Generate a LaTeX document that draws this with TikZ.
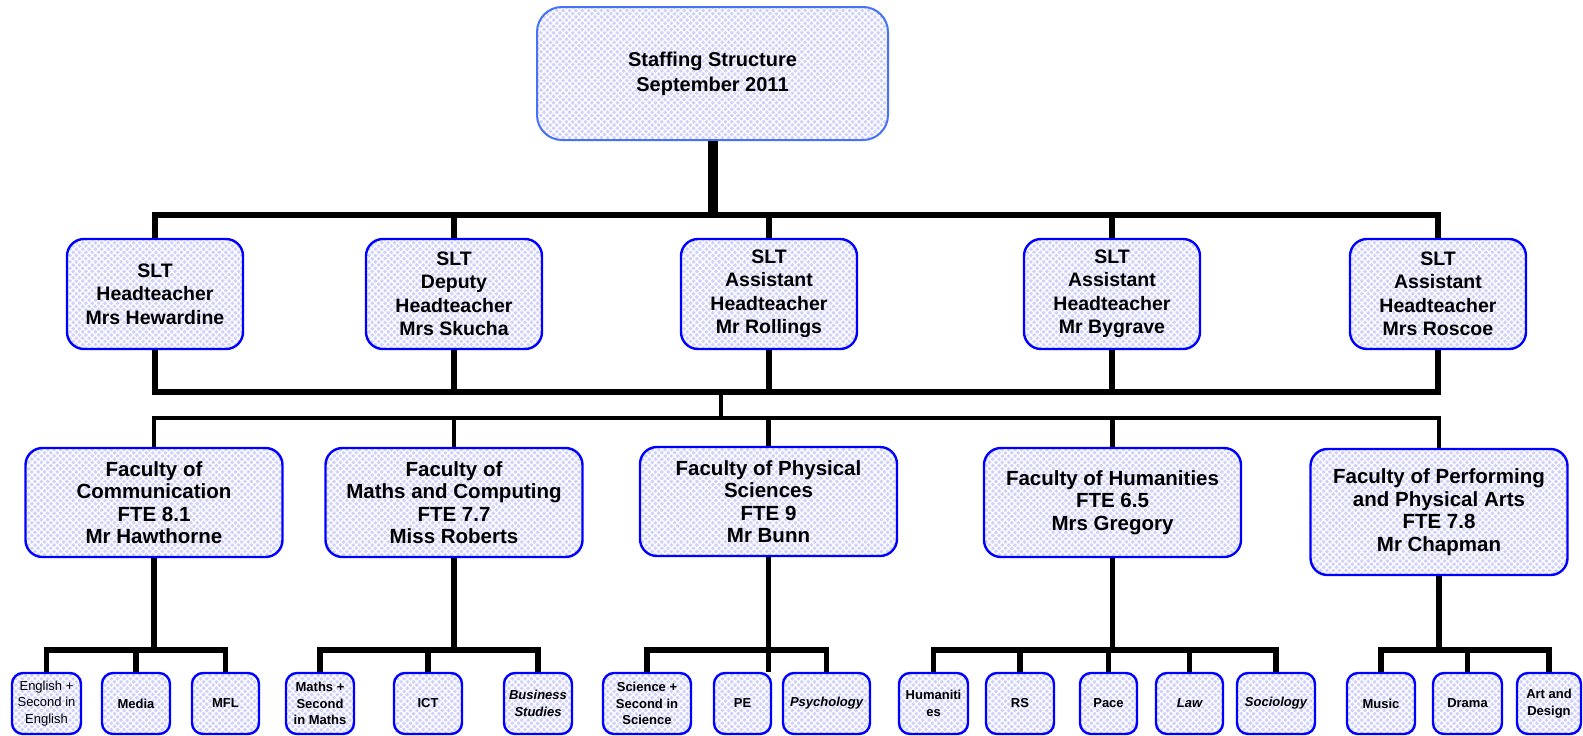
\documentclass[tikz,border=0pt]{standalone}
\usepackage{fontspec}
\setmainfont{Liberation Sans}
\usetikzlibrary{patterns.meta}
\definecolor{boxfill}{RGB}{208,210,250}
\definecolor{topedge}{RGB}{70,115,245}
\begin{document}
\begin{tikzpicture}[x=1pt,y=-1pt,
  box/.style={draw=blue, line width=2.4pt,
    preaction={fill=boxfill},
    preaction={pattern={Lines[angle=45,distance=4.5pt,line width=1.3pt]}, pattern color=white},
    preaction={pattern={Lines[angle=-45,distance=4.5pt,line width=1.3pt]}, pattern color=white},
    rounded corners=17pt, align=center, inner sep=0pt,
    font=\bfseries\fontsize{20}{25}\selectfont},
  topbox/.style={box, draw=topedge, line width=2pt, rounded corners=25pt},
  fac/.style={box, minimum width=257, minimum height=109, font=\bfseries\fontsize{20.5}{22.5}\selectfont},
  slt/.style={box, minimum width=176, minimum height=110, font=\bfseries\fontsize{19.5}{23.5}\selectfont},
  leaf/.style={box, rounded corners=11pt, minimum height=61, font=\bfseries\fontsize{13}{16.5}\selectfont},
  conn/.style={line width=5.5pt, line join=miter},
  thin conn/.style={line width=4.5pt, line join=miter}
]
\useasboundingbox (0,0) rectangle (1583,736);
\fill[white] (0,0) rectangle (1583,736);

\coordinate (y1) at (0,215);
\coordinate (y2) at (0,392);
\coordinate (y3) at (0,418);
\coordinate (y4) at (0,650);
\coordinate (mid) at (721,0);

% top
\node[topbox, minimum width=351, minimum height=133] (T) at (712.5,73.5) {Staffing Structure\\September 2011};

% SLT
\node[slt] (S1) at (155,294) {SLT\\Headteacher\\Mrs Hewardine};
\node[slt] (S2) at (454,294) {SLT\\Deputy\\Headteacher\\Mrs Skucha};
\node[slt] (S3) at (769,294) {SLT\\Assistant\\Headteacher\\Mr Rollings};
\node[slt] (S4) at (1112,294) {SLT\\Assistant\\Headteacher\\Mr Bygrave};
\node[slt] (S5) at (1438,294) {SLT\\Assistant\\Headteacher\\Mrs Roscoe};

% Faculties
\node[fac] (F1) at (154,502.5) {Faculty of\\Communication\\FTE 8.1\\Mr Hawthorne};
\node[fac] (F2) at (454,502.5) {Faculty of\\Maths and Computing\\FTE 7.7\\Miss Roberts};
\node[fac] (F3) at (768.5,501.5) {Faculty of Physical\\Sciences\\FTE 9\\Mr Bunn};
\node[fac] (F4) at (1112.5,502.5) {Faculty of Humanities\\FTE 6.5\\Mrs Gregory};
\node[fac, minimum height=126] (F5) at (1439,512) {Faculty of Performing\\and Physical Arts\\FTE 7.8\\Mr Chapman};

% Leaves
\node[leaf, minimum width=69, font=\fontsize{13}{16.5}\selectfont] (L1) at (46.5,703.5) {English +\\Second in\\English};
\node[leaf, minimum width=68] (L2) at (136,703.5) {Media};
\node[leaf, minimum width=67] (L3) at (225.5,703.5) {MFL};
\node[leaf, minimum width=68] (L4) at (320,703.5) {Maths +\\Second\\in Maths};
\node[leaf, minimum width=68] (L5) at (428,703.5) {ICT};
\node[leaf, minimum width=68] (L6) at (538,703.5) {\itshape Business\\\itshape Studies};
\node[leaf, minimum width=88] (L7) at (647,703.5) {Science +\\Second in\\Science};
\node[leaf, minimum width=57] (L8) at (742.5,703.5) {PE};
\node[leaf, minimum width=87] (L9) at (826.5,703.5) {\itshape Psychology};
\node[leaf, minimum width=69] (L10) at (933.5,703.5) {Humaniti\\es};
\node[leaf, minimum width=68] (L11) at (1020,703.5) {RS};
\node[leaf, minimum width=57] (L12) at (1108.5,703.5) {Pace};
\node[leaf, minimum width=67] (L13) at (1189.5,703.5) {\itshape Law};
\node[leaf, minimum width=78] (L14) at (1276,703.5) {\itshape Sociology};
\node[leaf, minimum width=68] (L15) at (1381,703.5) {Music};
\node[leaf, minimum width=69] (L16) at (1467.5,703.5) {Drama};
\node[leaf, minimum width=64] (L17) at (1549,703.5) {Art and\\Design};

% connectors top level
\draw[line width=10pt] (T.south) -- (T.south |- y1);
\draw[conn] (S1.north) -- (S1.north |- y1) -- (S5.north |- y1) -- (S5.north);
\foreach \s in {S2,S3,S4} \draw[conn] (\s.north) -- (\s.north |- y1);
\draw[conn] (S1.south) -- (S1.south |- y2) -- (S5.south |- y2) -- (S5.south);
\foreach \s in {S2,S3,S4} \draw[conn] (\s.south) -- (\s.south |- y2);
\draw[thin conn] (mid |- y2) -- (mid |- y3);
\draw[thin conn] (F1.north) -- (F1.north |- y3) -- (F5.north |- y3) -- (F5.north);
\foreach \s in {F2,F3,F4} \draw[thin conn] (\s.north) -- (\s.north |- y3);

% faculty stems
\foreach \s in {F1,F2,F4,F5} \draw[conn] (\s.south) -- (\s.south |- y4);
\draw[conn] (F3.south) -- (F3.south |- L8.north);

% leaf groups
\draw[conn] (L1.north) -- (L1.north |- y4) -- (L3.north |- y4) -- (L3.north);
\draw[conn] (L2.north) -- (L2.north |- y4);
\draw[conn] (L4.north) -- (L4.north |- y4) -- (L6.north |- y4) -- (L6.north);
\draw[conn] (L5.north) -- (L5.north |- y4);
\draw[conn] (L7.north) -- (L7.north |- y4) -- (L9.north |- y4) -- (L9.north);
\draw[conn] (L10.north) -- (L10.north |- y4) -- (L14.north |- y4) -- (L14.north);
\foreach \s in {L11,L12,L13} \draw[conn] (\s.north) -- (\s.north |- y4);
\draw[conn] (L15.north) -- (L15.north |- y4) -- (L17.north |- y4) -- (L17.north);
\draw[conn] (L16.north) -- (L16.north |- y4);
\end{tikzpicture}
\end{document}
